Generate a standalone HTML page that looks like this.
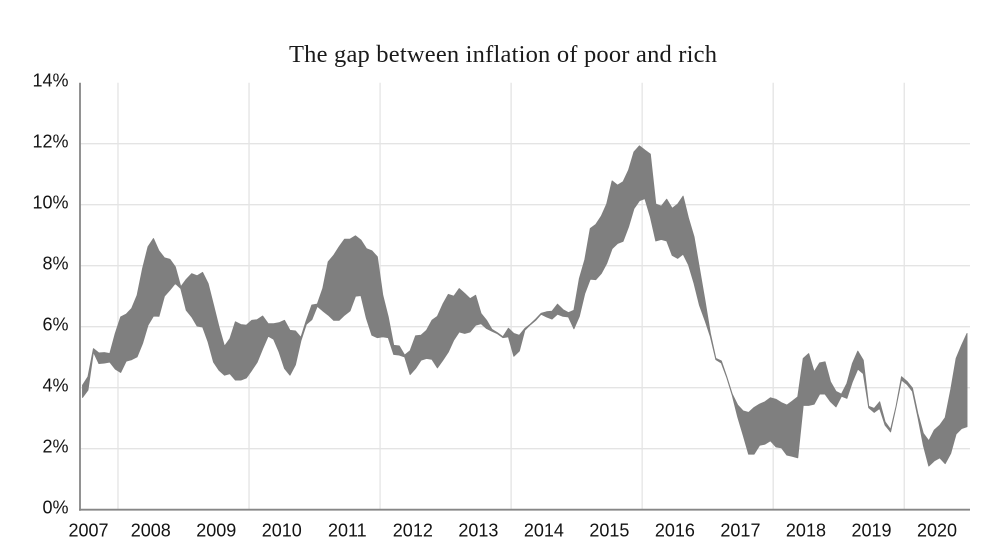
<!DOCTYPE html>
<html lang="en">
<head>
<meta charset="utf-8">
<title>The gap between inflation of poor and rich</title>
<style>
html,body{margin:0;padding:0;background:#fff;width:1003px;height:549px;overflow:hidden}
svg{display:block}
.tick{font-family:"Liberation Sans",sans-serif;font-size:18px;fill:#141414}
.title{font-family:"Liberation Serif",serif;font-size:24.5px;fill:#1a1a1a}
</style>
</head>
<body>
<svg id="chart" width="1003" height="549" viewBox="0 0 1003 549">
<text class="title" x="289" y="62" textLength="428" lengthAdjust="spacing">The gap between inflation of poor and rich</text>
</svg>
<script>
const yearLabels = [2007,2008,2009,2010,2011,2012,2013,2014,2015,2016,2017,2018,2019,2020];
const yTicks = [0,2,4,6,8,10,12,14];
const upperSeries = [4.08,4.36,5.28,5.14,5.15,5.12,5.78,6.32,6.41,6.60,7.03,7.91,8.62,8.89,8.49,8.26,8.21,7.96,7.31,7.55,7.74,7.67,7.78,7.42,6.71,5.99,5.36,5.61,6.16,6.07,6.05,6.21,6.23,6.35,6.10,6.10,6.13,6.21,5.88,5.86,5.65,6.21,6.71,6.74,7.25,8.13,8.34,8.62,8.87,8.87,8.98,8.84,8.56,8.49,8.29,7.03,6.32,5.39,5.37,5.07,5.21,5.70,5.72,5.88,6.21,6.34,6.74,7.06,7.00,7.25,7.09,6.92,7.03,6.43,6.21,5.91,5.80,5.67,5.95,5.78,5.72,5.94,6.08,6.25,6.44,6.49,6.51,6.74,6.56,6.46,6.54,7.58,8.20,9.22,9.35,9.62,10.02,10.78,10.64,10.75,11.13,11.73,11.93,11.79,11.66,10.02,9.95,10.18,9.88,10.02,10.28,9.55,8.95,7.91,6.87,5.78,4.96,4.88,4.36,3.79,3.43,3.24,3.19,3.35,3.46,3.54,3.67,3.62,3.51,3.43,3.56,3.70,4.96,5.12,4.52,4.81,4.85,4.19,3.88,3.79,4.14,4.79,5.20,4.90,3.39,3.32,3.54,2.88,2.63,3.39,4.36,4.21,3.99,3.15,2.50,2.26,2.61,2.77,3.02,3.92,4.96,5.39,5.78];
const lowerSeries = [3.68,3.92,5.17,4.79,4.81,4.84,4.61,4.50,4.87,4.92,5.01,5.45,6.05,6.35,6.34,7.00,7.20,7.42,7.25,6.54,6.32,6.02,5.99,5.50,4.84,4.57,4.41,4.46,4.25,4.25,4.32,4.57,4.84,5.28,5.69,5.59,5.17,4.63,4.41,4.75,5.54,6.08,6.23,6.67,6.52,6.38,6.21,6.21,6.38,6.52,7.00,7.02,6.27,5.72,5.64,5.67,5.64,5.09,5.07,5.01,4.43,4.63,4.90,4.96,4.93,4.65,4.90,5.17,5.56,5.83,5.78,5.83,6.05,6.10,5.94,5.85,5.77,5.64,5.67,5.03,5.20,5.88,6.06,6.21,6.41,6.32,6.25,6.41,6.34,6.32,5.93,6.34,7.09,7.56,7.54,7.74,8.07,8.56,8.73,8.80,9.27,9.87,10.13,10.20,9.60,8.81,8.86,8.81,8.34,8.24,8.38,8.02,7.42,6.70,6.21,5.67,4.92,4.81,4.33,3.75,3.04,2.44,1.82,1.82,2.11,2.15,2.26,2.06,2.03,1.79,1.75,1.70,3.42,3.42,3.46,3.79,3.79,3.54,3.37,3.72,3.65,4.19,4.61,4.46,3.34,3.19,3.32,2.77,2.55,3.37,4.25,4.11,3.88,3.04,2.11,1.43,1.60,1.70,1.51,1.84,2.48,2.66,2.72];

const svg = document.getElementById('chart');
const NS = 'http://www.w3.org/2000/svg';
const xScale = function (m) { return 82.5 + 5.46 * m; };
const yScale = function (v) { return 509.7 - 30.5 * v; };
const make = function (tag, attrs) {
  const el = document.createElementNS(NS, tag);
  Object.keys(attrs).forEach(function (k) { el.setAttribute(k, attrs[k]); });
  return el;
};

yTicks.forEach(function (t) {
  if (t > 0 && t < 14) {
    const g = make('line', {x1: 80, x2: 970, y1: yScale(t), y2: yScale(t), stroke: '#e4e4e4', 'stroke-width': 1.3});
    
    
    svg.appendChild(g);
  }
  const lab = make('text', {x: 68.5, y: yScale(t) + 3.7, 'text-anchor': 'end', class: 'tick'});
  
  
  lab.textContent = t + '%';
  svg.appendChild(lab);
});

yearLabels.forEach(function (yr, k) {
  const m = k * 12;
  if (k % 2 === 0) {
    const g = make('line', {x1: xScale(m + 6.5), x2: xScale(m + 6.5), y1: yScale(14), y2: yScale(0), stroke: '#e4e4e4', 'stroke-width': 1.3});
    
    
    svg.appendChild(g);
  }
  const lab = make('text', {x: Math.max(88.5, xScale(m + 0.5)), y: 536.3, 'text-anchor': 'middle', class: 'tick'});
  
  
  lab.textContent = yr;
  svg.appendChild(lab);
});

const pts = [];
upperSeries.forEach(function (v, i) { pts.push(xScale(i).toFixed(2) + ',' + yScale(v).toFixed(2)); });
for (let i = lowerSeries.length - 1; i >= 0; i--) {
  pts.push(xScale(i).toFixed(2) + ',' + yScale(lowerSeries[i]).toFixed(2));
}
const band = make('polygon', {points: pts.join(' '), fill: '#7f7f7f', stroke: '#7f7f7f', 'stroke-width': 0.9, 'stroke-linejoin': 'round'});


svg.appendChild(band);

const yAxis = make('line', {x1: 80, x2: 80, y1: yScale(14), y2: yScale(0) + 1, stroke: '#868686', 'stroke-width': 1.8});


svg.appendChild(yAxis);

const xAxis = make('line', {x1: 79, x2: 970, y1: yScale(0), y2: yScale(0), stroke: '#868686', 'stroke-width': 1.8});


svg.appendChild(xAxis);
</script>
</body>
</html>
